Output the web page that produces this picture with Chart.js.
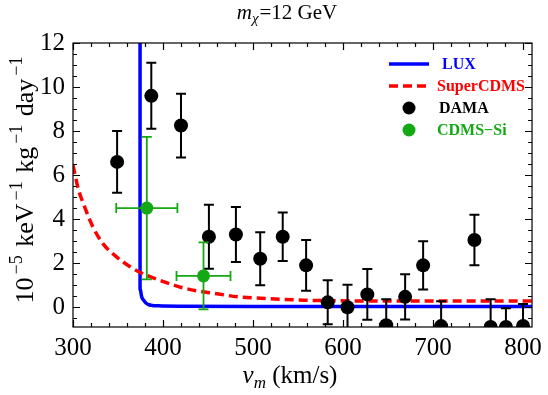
<!DOCTYPE html>
<html>
<head>
<meta charset="utf-8">
<script src="https://cdn.jsdelivr.net/npm/chart.js@4.4.1/dist/chart.umd.min.js"></script>
<style>
  html, body { margin: 0; padding: 0; background: #fff; }
</style>
</head>
<body>
<canvas id="chart" width="548" height="395"></canvas>
<script>
// tick labels
const xTicks = [300, 400, 500, 600, 700, 800];
const yTicks = [0, 2, 4, 6, 8, 10, 12];

// DAMA points (black) with symmetric y errors
const damaX = [349, 387, 420, 451, 481, 508, 533, 559, 583, 605, 627, 648, 669, 689, 709, 746, 764, 781, 800];
const damaY = [6.6, 9.6, 8.25, 3.2, 3.3, 2.2, 3.2, 1.9, 0.22, 0.0, 0.58, -0.82, 0.47, 1.9, -0.86, 3.05, -0.9, -0.9, -0.85];
const damaErr = [1.4, 1.5, 1.45, 1.45, 1.25, 1.2, 1.1, 1.15, 1.0, 1.02, 1.15, 1.18, 1.03, 1.1, 1.13, 1.15, 1.26, 0.85, 1.0];

// CDMS-Si points (green) with x and y errors
const cdmsX = [382, 445];
const cdmsY = [4.5, 1.42];
const cdmsXErr = [34, 30];
const cdmsYErr = [3.24, 1.52];

// LUX limit (blue)
const luxX = [374.5, 374.5, 376.3, 378.5, 381.3, 384.5, 388, 395, 420, 500, 810];
const luxY = [13, 0.85, 0.47, 0.31, 0.18, 0.11, 0.08, 0.06, 0.04, 0.03, 0.03];

// SuperCDMS limit (red dashed)
const superX = [300, 306, 313, 322, 333, 348, 363, 376, 396, 425, 458, 484, 517, 557, 590, 650, 810];
const superY = [6.45, 5.35, 4.55, 3.65, 2.9, 2.3, 1.85, 1.55, 1.23, 0.85, 0.62, 0.47, 0.39, 0.32, 0.29, 0.28, 0.28];

const serif = '"Liberation Serif", "Times New Roman", serif';
const BLUE = '#0000ff';
const RED = '#ff0000';
const GREEN = '#14a814';

const pts = (xs, ys) => xs.map((x, i) => ({ x: x, y: ys[i] }));

function drawRich(ctx, parts, x, y, align) {
  let w = 0;
  parts.forEach((p) => {
    ctx.font = p.font;
    p.w = ctx.measureText(p.text).width;
    w += p.w + (p.gap || 0);
  });
  let cx = align === 'center' ? x - w / 2 : x;
  parts.forEach((p) => {
    ctx.font = p.font;
    ctx.fillText(p.text, cx, y + (p.dy || 0));
    cx += p.w + (p.gap || 0);
  });
}

const decor = {
  id: 'decor',
  beforeDatasetDraw(chart, args) {
    const ds = chart.data.datasets[args.index];
    if (!ds.yErr) return;
    const { ctx, chartArea: a, scales: { x, y } } = chart;
    ctx.save();
    ctx.beginPath();
    ctx.rect(a.left, a.top, a.right - a.left, a.bottom - a.top);
    ctx.clip();
    ctx.strokeStyle = ds.backgroundColor;
    ctx.lineWidth = ds.errWidth;
    const cap = 5;
    ds.data.forEach((p, i) => {
      const px = x.getPixelForValue(p.x);
      const y1 = y.getPixelForValue(p.y - ds.yErr[i]);
      const y2 = y.getPixelForValue(p.y + ds.yErr[i]);
      ctx.beginPath();
      ctx.moveTo(px, y1); ctx.lineTo(px, y2);
      ctx.moveTo(px - cap, y1); ctx.lineTo(px + cap, y1);
      ctx.moveTo(px - cap, y2); ctx.lineTo(px + cap, y2);
      if (ds.xErr) {
        const py = y.getPixelForValue(p.y);
        const x1 = x.getPixelForValue(p.x - ds.xErr[i]);
        const x2 = x.getPixelForValue(p.x + ds.xErr[i]);
        ctx.moveTo(x1, py); ctx.lineTo(x2, py);
        ctx.moveTo(x1, py - cap); ctx.lineTo(x1, py + cap);
        ctx.moveTo(x2, py - cap); ctx.lineTo(x2, py + cap);
      }
      ctx.stroke();
    });
    ctx.restore();
  },
  afterDraw(chart) {
    const { ctx, chartArea: a, scales: { x, y } } = chart;
    ctx.save();
    // frame with inward ticks on all sides
    ctx.strokeStyle = '#000';
    ctx.lineWidth = 1.2;
    ctx.strokeRect(a.left, a.top, a.right - a.left, a.bottom - a.top);
    ctx.beginPath();
    for (let v = 300; v <= 810; v += 20) {
      const px = Math.round(x.getPixelForValue(v)) + 0.5;
      const len = v % 100 === 0 ? 7 : 4;
      ctx.moveTo(px, a.bottom); ctx.lineTo(px, a.bottom - len);
      ctx.moveTo(px, a.top); ctx.lineTo(px, a.top + len);
    }
    for (let v = -0.5; v <= 12; v += 0.5) {
      const py = Math.round(y.getPixelForValue(v)) + 0.5;
      const len = v % 2 === 0 ? 7 : 4;
      ctx.moveTo(a.left, py); ctx.lineTo(a.left + len, py);
      ctx.moveTo(a.right, py); ctx.lineTo(a.right - len, py);
    }
    ctx.stroke();

    // title and axis titles
    ctx.fillStyle = '#000';
    ctx.textBaseline = 'alphabetic';
    drawRich(ctx, [
      { text: 'm', font: `italic 21px ${serif}` },
      { text: 'χ', font: `italic 15px ${serif}`, dy: 4, gap: 1 },
      { text: '=12 GeV', font: `21px ${serif}` }
    ], 287, 19, 'center');
    drawRich(ctx, [
      { text: 'v', font: `italic 25px ${serif}` },
      { text: 'm', font: `italic 17px ${serif}`, dy: 5 },
      { text: ' (km/s)', font: `25px ${serif}` }
    ], 290, 383, 'center');
    ctx.save();
    ctx.translate(33, 180);
    ctx.rotate(-Math.PI / 2);
    const sup = `18px ${serif}`;
    const big = `26px ${serif}`;
    drawRich(ctx, [
      { text: '10', font: big, gap: 3 },
      { text: '−5', font: sup, dy: -11, gap: 2 },
      { text: ' keV', font: big, gap: 3 },
      { text: '−1', font: sup, dy: -11, gap: 2 },
      { text: ' kg', font: big, gap: 3 },
      { text: '−1', font: sup, dy: -11, gap: 2 },
      { text: ' day', font: big, gap: 3 },
      { text: '−1', font: sup, dy: -11 }
    ], 0, 0, 'center');
    ctx.restore();

    // legend inside the plot
    const ds = chart.data.datasets;
    const bold = `bold 16px ${serif}`;
    ctx.font = bold;
    ctx.textBaseline = 'middle';
    ctx.lineCap = 'butt';
    // LUX
    ctx.strokeStyle = ds[0].borderColor;
    ctx.lineWidth = ds[0].borderWidth;
    ctx.beginPath(); ctx.moveTo(389, 64); ctx.lineTo(429, 64); ctx.stroke();
    ctx.fillStyle = ds[0].borderColor;
    ctx.fillText(ds[0].label, 442, 65);
    // SuperCDMS
    ctx.strokeStyle = ds[1].borderColor;
    ctx.lineWidth = ds[1].borderWidth;
    ctx.setLineDash(ds[1].borderDash);
    ctx.beginPath(); ctx.moveTo(389, 86); ctx.lineTo(430, 86); ctx.stroke();
    ctx.setLineDash([]);
    ctx.fillStyle = ds[1].borderColor;
    ctx.fillText(ds[1].label, 437, 87);
    // DAMA and CDMS-Si markers
    [[2, 108, 439], [3, 130, 437]].forEach(([i, yy, tx]) => {
      ctx.fillStyle = ds[i].backgroundColor;
      ctx.beginPath(); ctx.arc(409, yy, 6.5, 0, Math.PI * 2); ctx.fill();
      ctx.fillText(ds[i].label, tx, yy + 1);
    });
    ctx.restore();
  }
};

new Chart(document.getElementById('chart'), {
  type: 'scatter',
  data: {
    datasets: [
      {
        label: 'LUX',
        data: pts(luxX, luxY),
        showLine: true,
        borderColor: BLUE,
        backgroundColor: BLUE,
        borderWidth: 3.5,
        pointRadius: 0,
        cubicInterpolationMode: 'monotone',
        clip: 0,
        order: 4
      },
      {
        label: 'SuperCDMS',
        data: pts(superX, superY),
        showLine: true,
        borderColor: RED,
        backgroundColor: RED,
        borderWidth: 3.5,
        borderDash: [9, 5],
        pointRadius: 0,
        cubicInterpolationMode: 'monotone',
        clip: 0,
        order: 3
      },
      {
        label: 'DAMA',
        data: pts(damaX, damaY),
        yErr: damaErr,
        errWidth: 2,
        backgroundColor: '#000',
        borderColor: '#000',
        pointRadius: 7,
        pointBorderWidth: 0,
        clip: 0,
        order: 2
      },
      {
        label: 'CDMS−Si',
        data: pts(cdmsX, cdmsY),
        yErr: cdmsYErr,
        xErr: cdmsXErr,
        errWidth: 1.8,
        backgroundColor: GREEN,
        borderColor: GREEN,
        pointRadius: 6.5,
        pointBorderWidth: 0,
        clip: 0,
        order: 1
      }
    ]
  },
  options: {
    responsive: false,
    animation: false,
    devicePixelRatio: 1,
    layout: { padding: { top: 43, right: 11, left: 0, bottom: 0 } },
    plugins: {
      legend: { display: false },
      tooltip: { enabled: false }
    },
    scales: {
      x: {
        type: 'linear',
        min: 300,
        max: 810,
        grid: { display: false, drawTicks: false },
        border: { display: false },
        ticks: { color: '#000', padding: 6, font: { family: serif, size: 25 } },
        afterBuildTicks: (s) => { s.ticks = xTicks.map((v) => ({ value: v })); },
        afterFit: (s) => { s.height = 68; }
      },
      y: {
        type: 'linear',
        min: -0.9,
        max: 12,
        grid: { display: false, drawTicks: false },
        border: { display: false },
        ticks: { color: '#000', padding: 8, font: { family: serif, size: 25 } },
        afterBuildTicks: (s) => { s.ticks = yTicks.map((v) => ({ value: v })); },
        afterFit: (s) => { s.width = 73; }
      }
    }
  },
  plugins: [decor]
});
</script>
</body>
</html>
